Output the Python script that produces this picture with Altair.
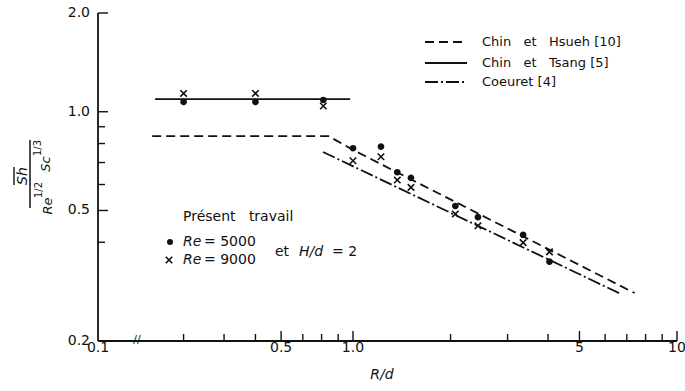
import altair as alt
import pandas as pd

# ---------------- data ----------------
# axis ranges (left end of the broken R/d axis is labelled 0.1)
x_domain = [0.1633, 10.0]
y_domain = [0.2, 2.0]

# Present work: R/d and Sh/(Re^1/2 Sc^1/3)
rd_points = [0.30, 0.50, 0.81, 1.00, 1.22, 1.37, 1.51, 2.07, 2.43, 3.35, 4.04]
sh_re5000 = [1.071, 1.071, 1.086, 0.774, 0.783, 0.654, 0.629, 0.516, 0.477, 0.421, 0.349]
sh_re9000 = [1.137, 1.137, 1.041, 0.709, 0.729, 0.619, 0.588, 0.488, 0.449, 0.399, 0.374]

# Correlations
hsueh_rd = [0.24, 0.84, 1.0, 7.4]
hsueh_sh = [0.843, 0.843, 0.765, 0.28]
tsang_rd = [0.245, 0.98]
tsang_sh = [1.093, 1.093]
coeuret_rd = [0.808, 6.72]
coeuret_sh = [0.754, 0.278]

# tick marks and labels as printed
x_major_ticks = [0.6, 1.0, 5.0, 10.0]
x_minor_ticks = [0.3, 0.4, 0.5, 0.7, 0.8, 0.9, 2, 3, 4, 6, 7, 8, 9]
x_label_values = [0.1633, 0.6, 1.0, 5.0, 10.0]
x_label_texts = ["0.1", "0.5", "1.0", "5", "10"]
y_major_ticks = [2.0, 1.0, 0.5]
y_minor_ticks = [0.9, 0.8, 0.7, 0.6, 0.4]
y_label_values = [0.2, 0.5, 1.0, 2.0]
y_label_texts = ["0.2", "0.5", "1.0", "2.0"]

sp = "\u00a0\u00a0 "
legend_names = [f"Chin{sp}et{sp}Hsueh [10]", f"Chin{sp}et{sp}Tsang [5]", "Coeuret [4]"]

# ---------------- styling ----------------
ink = "#111111"
font = "DejaVu Sans"
W, H = 579, 328
xshape = "M-1,-1L1,1M-1,1L1,-1"

xs = alt.Scale(type="log", domain=x_domain, nice=False, zero=False)
ys = alt.Scale(type="log", domain=y_domain, nice=False, zero=False)


def XF(f):
    return alt.X(f, scale=xs, axis=None)


def YF(f):
    return alt.Y(f, scale=ys, axis=None)


# measured points: one layer, shape per Reynolds number
rows = ([(r, s, "Re=5000") for r, s in zip(rd_points, sh_re5000)]
        + [(r, s, "Re=9000") for r, s in zip(rd_points, sh_re9000)])
pts = pd.DataFrame(rows, columns=["rd", "sh", "kind"])
kinds = ["Re=5000", "Re=9000"]

points = alt.Chart(pts).mark_point(stroke=ink, strokeWidth=1.6, opacity=1, fillOpacity=1).encode(
    x=XF("rd:Q"), y=YF("sh:Q"),
    shape=alt.Shape("kind:N", scale=alt.Scale(domain=kinds, range=["circle", xshape]), legend=None),
    size=alt.Size("kind:N", scale=alt.Scale(domain=kinds, range=[26, 42]), legend=None),
    fill=alt.Fill("kind:N", scale=alt.Scale(domain=kinds, range=[ink, "transparent"]), legend=None),
)


def curve(rd, sh, dash=None):
    df = pd.DataFrame({"rd": rd, "sh": sh})
    kw = dict(color=ink, strokeWidth=1.8)
    if dash:
        kw["strokeDash"] = dash
    return alt.Chart(df).mark_line(**kw).encode(x=XF("rd:Q"), y=YF("sh:Q"))


hsueh = curve(hsueh_rd, hsueh_sh, [9, 5])
tsang = curve(tsang_rd, tsang_sh)
coeuret = curve(coeuret_rd, coeuret_sh, [13, 3, 2, 3])


def seg(x1, y1, x2, y2, dash=None, width=1.6):
    kw = dict(color=ink, strokeWidth=width)
    if dash:
        kw["strokeDash"] = dash
    return alt.Chart(pd.DataFrame({"d": [0]})).mark_rule(**kw).encode(
        x=alt.value(x1), x2=alt.value(x2), y=alt.value(y1), y2=alt.value(y2))


def txt(s, x, y, size=13, italic=False, angle=0, align="left"):
    kw = dict(font=font, fontSize=size, color=ink, align=align, baseline="middle")
    if italic:
        kw["fontStyle"] = "italic"
    if angle:
        kw["angle"] = angle
    return alt.Chart(pd.DataFrame({"t": [s]})).mark_text(**kw).encode(
        text="t:N", x=alt.value(x), y=alt.value(y))


# ---- axes drawn by hand: frame lines, inward ticks, labels ----
def xticks(vals, length):
    return alt.Chart(pd.DataFrame({"rd": vals})).mark_rule(color=ink, strokeWidth=1.4).encode(
        x=XF("rd:Q"), y=alt.value(H), y2=alt.value(H - length))


def yticks(vals, length):
    return alt.Chart(pd.DataFrame({"sh": vals})).mark_rule(color=ink, strokeWidth=1.4).encode(
        y=YF("sh:Q"), x=alt.value(0), x2=alt.value(length))


xlabels = alt.Chart(pd.DataFrame({"rd": x_label_values, "t": x_label_texts})).mark_text(
    font=font, fontSize=14, color=ink, align="center", baseline="middle").encode(
    x=XF("rd:Q"), y=alt.value(H + 7), text="t:N")
ylabels = alt.Chart(pd.DataFrame({"sh": y_label_values, "t": y_label_texts})).mark_text(
    font=font, fontSize=14, color=ink, align="right", baseline="middle").encode(
    y=YF("sh:Q"), x=alt.value(-8), text="t:N")

axes = [
    seg(0, H, W, H, None, 1.8),
    seg(0, 0, 0, H, None, 1.8),
    xticks(x_major_ticks, 10), xticks(x_minor_ticks, 7),
    yticks(y_major_ticks, 10), yticks(y_minor_ticks, 7),
    xlabels, ylabels,
]

# legend (top right)
legend = [
    seg(327, 29, 369, 29, [9, 5], 1.8), txt(legend_names[0], 384, 29, 13),
    seg(327, 50, 369, 50, None, 1.8), txt(legend_names[1], 384, 50, 13),
    seg(327, 69, 369, 69, [13, 3, 2, 3], 1.8), txt(legend_names[2], 384, 69, 13),
]

# "Présent travail" block
sym = pd.DataFrame({"d": [0]})
present = [
    txt("Présent\u00a0\u00a0 travail", 85, 204, 14),
    alt.Chart(sym).mark_point(filled=True, shape="circle", size=36, color=ink, opacity=1).encode(
        x=alt.value(72), y=alt.value(229)),
    alt.Chart(sym).mark_point(shape=xshape, filled=False, size=42, stroke=ink, strokeWidth=1.7,
                              opacity=1).encode(x=alt.value(71), y=alt.value(247)),
    txt("Re", 85, 229, 14, italic=True), txt("= 5000", 106, 229, 14),
    txt("Re", 85, 247, 14, italic=True), txt("= 9000", 106, 247, 14),
    txt("et", 177, 239, 14), txt("H/d", 201, 239, 14, italic=True), txt("= 2", 234, 239, 14),
]

# axis titles
titles = [
    txt("R/d", 284, 362, 14, italic=True, align="center"),
    txt("Sh", -75, 163, 14, italic=True, angle=270, align="center"),
    seg(-84, 154, -84, 172, None, 1.4),
    seg(-68, 127, -68, 195, None, 1.5),
    txt("Re", -50, 193, 13, italic=True, angle=270, align="center"),
    txt("1/2", -59.5, 177, 10, angle=270, align="center"),
    txt("Sc", -52, 151, 13, italic=True, angle=270, align="center"),
    txt("1/3", -60.5, 135, 10, angle=270, align="center"),
    txt("//", 39, 327, 11, align="center"),
]

chart = alt.layer(
    points, hsueh, tsang, coeuret,
    *axes, *legend, *present, *titles,
).properties(
    width=W, height=H,
    padding={"left": 98, "top": 13, "right": 8, "bottom": 50},
    autosize=alt.AutoSizeParams(type="none"),
    background="white",
).configure_view(stroke=None)

chart.save("out.html", embed_options={"renderer": "svg", "actions": False})
